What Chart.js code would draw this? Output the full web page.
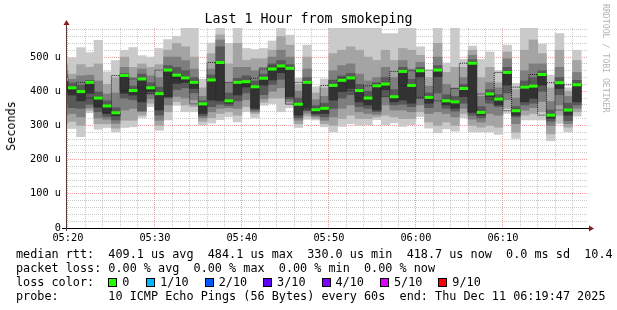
<!DOCTYPE html>
<html>
<head>
<meta charset="utf-8">
<script src="https://cdn.jsdelivr.net/npm/chart.js@4.4.1/dist/chart.umd.min.js"></script>
<style>
  body { margin: 0; background: #fff; }
  #wrap { position: relative; width: 617px; height: 310px; overflow: hidden; font-family: 'DejaVu Sans Mono', monospace; color: #000; }
  #chart { position: absolute; left: 0; top: 0; }
  #title { position: absolute; left: 0; top: 12px; width: 617px; text-align: center; font-size: 13.3px; line-height: 14px; white-space: pre; }
  #ylabel { position: absolute; left: 11px; top: 126px; transform: translate(-50%, -50%) rotate(-90deg); font-size: 11.8px; white-space: pre; }
  #credit { position: absolute; left: 601px; top: 4px; writing-mode: vertical-rl; font-size: 8.2px; color: #b4b4b4; white-space: pre; }
  #legend { position: absolute; left: 16px; top: 247px; font-size: 11.8px; line-height: 14px; white-space: pre; }
  .box { display: inline-block; width: 7px; height: 7px; border: 1px solid #000; vertical-align: top; position: relative; top: 3px; margin-right: 5px; }
</style>
</head>
<body>
<div id="wrap">
  <canvas id="chart" width="617" height="250"></canvas>
  <div id="title">Last 1 Hour from smokeping</div>
  <div id="ylabel">Seconds</div>
  <div id="credit">RRDTOOL / TOBI OETIKER</div>
  <div id="legend"></div>
</div>
<script>
// one bar per minute, first one is 05:19 (mostly cut off), last one 06:18
// ten sorted pings per minute (microseconds), median = 6th ping
const ping1 = [290,291,267,337,289,294,281,294,296,323, 355,286,316,359,340,340,302,307,317,325, 310,340,323,359,364,340,352,294,318,316, 296,281,297,305,300,302,317,302,307,297, 302,326,292,278,290,283,323,281,281,281, 274,335,262,316,316,316,255,306,281,327];
const ping2 = [305,312,300,345,305,305,292,315,315,330, 365,300,340,370,360,355,312,322,335,340, 330,355,335,368,380,380,362,305,328,320, 305,300,320,330,320,320,325,330,325,320, 320,340,310,300,310,300,335,300,295,300, 295,350,280,330,335,340,275,330,295,340];
const ping3 = [330,335,325,352,322,318,306,345,350,340, 378,315,360,385,380,375,322,340,350,352, 350,375,340,378,400,410,370,315,336,326, 315,325,350,360,340,335,332,360,345,345, 340,360,335,340,335,325,350,318,310,335, 330,375,305,345,352,370,300,360,305,350];
const ping4 = [365,352,350,362,340,326,316,380,375,343, 392,330,380,405,410,395,328,355,362,358, 372,395,345,390,420,435,378,322,343,330, 325,350,380,390,355,350,340,385,360,362, 355,378,352,395,350,342,365,330,322,365, 355,395,325,360,365,400,312,390,314,360];
const ping5 = [400,389,372,394,353,335,328,394,389,369, 399,345,384,423,428,408,335,374,374,365, 389,413,350,418,433,454,384,330,350,335, 335,374,399,408,369,360,345,404,369,374, 365,442,365,443,360,350,384,340,330,384, 360,418,330,369,379,418,321,408,330,369];
const median = [434,410,399,426,380,357,337,446,402,436, 410,393,462,447,439,426,363,433,484,372, 426,428,413,438,465,474,467,362,426,346, 350,417,432,439,402,380,416,421,384,458, 417,460,382,462,372,369,408,482,338,392, 377,455,343,412,415,449,330,425,345,419];
const ping7 = [445,424,418,432,398,372,352,452,415,450, 425,412,475,470,460,440,372,448,530,395, 438,445,430,450,480,490,478,380,440,358, 365,430,445,452,420,400,425,440,405,470, 435,470,395,475,390,385,420,492,355,405, 390,470,355,430,440,460,345,440,365,432];
const ping8 = [460,435,445,447,430,392,395,470,440,465, 445,440,500,500,490,465,385,465,550,425, 470,470,460,470,500,520,500,400,465,375, 385,460,475,480,450,430,440,470,440,490, 465,485,415,500,420,410,440,505,385,425, 410,495,380,460,480,480,370,470,385,455];
const ping9 = [480,450,478,470,480,420,440,500,470,480, 470,478,520,540,530,500,410,510,565,480, 540,490,495,495,520,560,535,420,500,395, 410,510,520,530,520,500,490,520,490,525, 520,505,440,540,455,470,470,520,440,470, 425,515,405,520,550,510,410,520,400,490];
const ping10 = [497,498,528,513,549,457,490,520,528,504, 500,525,551,561,584,584,429,541,584,540, 584,525,522,525,547,584,564,438,535,413, 436,584,584,584,584,584,584,569,569,584, 584,530,460,584,483,584,493,532,493,515, 460,535,423,584,584,538,447,569,410,520];

const timeLabels = ['05:20', '05:30', '05:40', '05:50', '06:00', '06:10'];
const yTickLabels = ['0', '100 u', '200 u', '300 u', '400 u', '500 u'];
const lossLabels = ['0', '1/10', '2/10', '3/10', '4/10', '5/10', '9/10'];
const lossColors = ['#26ff00', '#00b8ff', '#0059ff', '#5e00ff', '#7e00ff', '#dd00ff', '#ff0000'];

const GRID = 'rgba(140,140,140,0.45)';
const MGRID = 'rgba(220,40,40,0.45)';

const bands = [
  { lo: ping1, hi: ping10, color: '#cacaca' },
  { lo: ping2, hi: ping9, color: '#a4a4a4' },
  { lo: ping3, hi: ping8, color: '#7e7e7e' },
  { lo: ping4, hi: ping7, color: '#585858' },
  { lo: ping5, hi: median, color: '#323232' }
];

const datasets = bands.map((b, j) => ({
  type: 'bar',
  data: b.lo.map((v, i) => ({ x: i - 0.5, y: [v, b.hi[i]] })),
  backgroundColor: b.color,
  borderWidth: 0,
  grouped: false,
  barPercentage: 1,
  categoryPercentage: 1,
  order: 10 - j
}));

datasets.push({
  type: 'line',
  data: median.map((v, i) => ({ x: i - 1, y: v })),
  stepped: 'after',
  borderColor: '#202020',
  borderWidth: 1,
  borderDash: [1, 1],
  pointRadius: 0,
  fill: false,
  clip: 0,
  order: 2
});

datasets.push({
  type: 'line',
  data: median.map((v, i) => ({ x: i - 0.5, y: v })),
  showLine: false,
  pointStyle: 'line',
  pointRadius: ctx => {
    const x = ctx.chart.scales.x;
    return (x.getPixelForValue(1) - x.getPixelForValue(0)) / 2;
  },
  pointBorderColor: lossColors[0],
  pointBorderWidth: 3,
  clip: 0,
  order: 1
});

const xGrid = [];
for (let m = 0; m < 60; m += 2) xGrid.push(m);
const yGrid = [];
for (let v = 0; v <= 580; v += 20) yGrid.push(v);

const axesPlugin = {
  id: 'rrdAxes',
  afterDraw(chart) {
    const { ctx, chartArea: a } = chart;
    ctx.save();
    ctx.lineWidth = 1;
    ctx.strokeStyle = '#000';
    ctx.beginPath();
    ctx.moveTo(a.left - 4, a.bottom + 0.5);
    ctx.lineTo(a.right + 2, a.bottom + 0.5);
    ctx.stroke();
    ctx.strokeStyle = '#5c3a3a';
    ctx.beginPath();
    ctx.moveTo(a.left + 0.5, a.bottom + 3);
    ctx.lineTo(a.left + 0.5, a.top - 4);
    ctx.stroke();
    ctx.fillStyle = '#8b1a1a';
    ctx.beginPath();
    ctx.moveTo(a.left + 0.5, a.top - 8);
    ctx.lineTo(a.left - 2.5, a.top - 3);
    ctx.lineTo(a.left + 3.5, a.top - 3);
    ctx.fill();
    ctx.beginPath();
    ctx.moveTo(a.right + 6, a.bottom + 0.5);
    ctx.lineTo(a.right + 1, a.bottom - 2.5);
    ctx.lineTo(a.right + 1, a.bottom + 3.5);
    ctx.fill();
    ctx.restore();
  }
};

const tickFont = { family: 'DejaVu Sans Mono', size: 10.3 };

new Chart(document.getElementById('chart'), {
  type: 'bar',
  data: { datasets },
  plugins: [axesPlugin],
  options: {
    responsive: false,
    animation: false,
    events: [],
    layout: { padding: { top: 28, right: 29, left: 0, bottom: 0 } },
    plugins: { legend: { display: false }, tooltip: { enabled: false } },
    scales: {
      x: {
        type: 'linear',
        min: -13 / 60,
        max: 59 + 47 / 60,
        offset: false,
        z: 1,
        afterFit: s => { s.height = 22; },
        afterBuildTicks: s => { s.ticks = xGrid.map(v => ({ value: v })); },
        grid: { offset: false, drawTicks: false, color: c => (c.tick && c.tick.value % 10 === 0 ? MGRID : GRID) },
        border: { display: false, dash: [1, 1] },
        ticks: {
          padding: 4, maxRotation: 0, autoSkip: false, color: '#000', font: tickFont,
          callback: v => (v % 10 === 0 ? timeLabels[v / 10] : '')
        }
      },
      y: {
        type: 'linear',
        min: 0,
        max: 585,
        z: 1,
        afterFit: s => { s.width = 66; },
        afterBuildTicks: s => { s.ticks = yGrid.map(v => ({ value: v })); },
        grid: { drawTicks: false, color: c => (c.tick && c.tick.value % 100 === 0 ? MGRID : GRID) },
        border: { display: false, dash: [1, 1] },
        ticks: {
          padding: 5, autoSkip: false, color: '#000', font: tickFont,
          callback: v => (v % 100 === 0 ? yTickLabels[v / 100] : '')
        }
      }
    }
  }
});

// legend text below the graph
const legend = document.getElementById('legend');
const line = t => { const d = document.createElement('div'); d.textContent = t; legend.appendChild(d); return d; };
line('median rtt:  409.1 us avg  484.1 us max  330.0 us min  418.7 us now  0.0 ms sd  10.4 am/s');
line('packet loss: 0.00 % avg  0.00 % max  0.00 % min  0.00 % now');
const lossLine = line('loss color:');
lossLabels.forEach((lbl, i) => {
  const box = document.createElement('span');
  box.className = 'box';
  box.style.background = lossColors[i];
  box.style.marginLeft = i === 0 ? '14px' : (i === 1 ? '17px' : '16px');
  lossLine.appendChild(box);
  lossLine.appendChild(document.createTextNode(lbl));
});
line('probe:       10 ICMP Echo Pings (56 Bytes) every 60s  end: Thu Dec 11 06:19:47 2025');
</script>
</body>
</html>
